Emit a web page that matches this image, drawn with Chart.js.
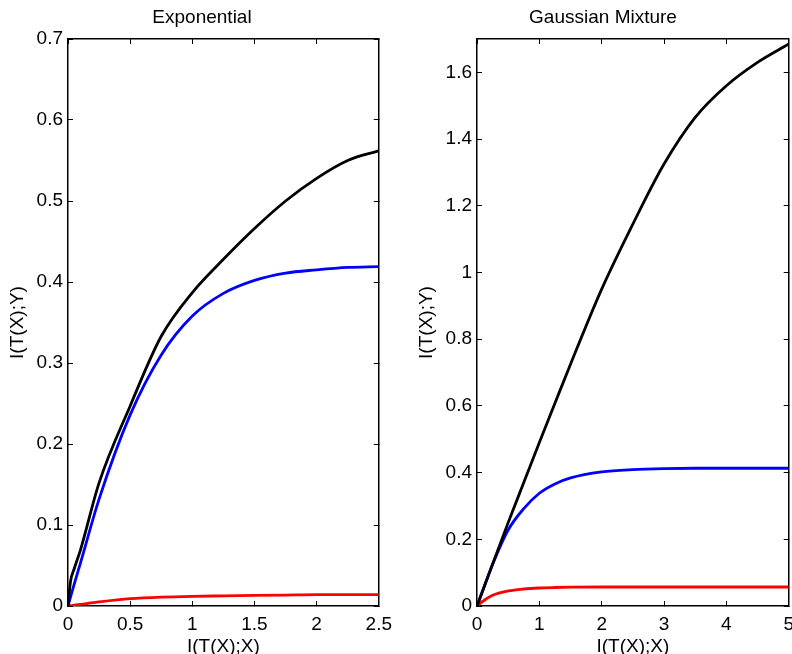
<!DOCTYPE html>
<html>
<head>
<meta charset="utf-8">
<script src="https://cdn.jsdelivr.net/npm/chart.js@4"></script>
<style>
    html, body { margin: 0; padding: 0; background: #fff; overflow: hidden; }
    body { width: 792px; height: 654px; position: relative; }
    .panel { position: absolute; top: 0; }
</style>
</head>
<body>
<div class="panel" style="left:0"><canvas id="expChart" width="404" height="654"></canvas></div>
<div class="panel" style="left:400px"><canvas id="gmmChart" width="406" height="654"></canvas></div>
<script>
// Exponential panel
const expX = [0, 0.02, 0.05, 0.1, 0.25, 0.5, 0.75, 1, 1.25, 1.5, 1.75, 2, 2.25, 2.5];
const expBlack = [0, 0.03, 0.046, 0.069, 0.152, 0.247, 0.333, 0.387, 0.428, 0.466, 0.5, 0.528, 0.55, 0.562];
const expBlue = [0, 0.011, 0.027, 0.053, 0.132, 0.236, 0.31, 0.358, 0.386, 0.402, 0.411, 0.415, 0.418, 0.419];
const expRed = [0, 0.0005, 0.001, 0.002, 0.005, 0.009, 0.011, 0.012, 0.0125, 0.013, 0.0135, 0.014, 0.014, 0.014];

// Gaussian mixture panel
const gmmX = [0, 0.1, 0.25, 0.5, 0.75, 1, 1.25, 1.5, 2, 2.5, 3, 3.5, 4, 4.5, 5];
const gmmBlack = [0, 0.05, 0.125, 0.25, 0.37, 0.49, 0.608, 0.725, 0.95, 1.145, 1.325, 1.465, 1.56, 1.63, 1.685];
const gmmBlue = [0, 0.05, 0.125, 0.228, 0.292, 0.338, 0.366, 0.384, 0.402, 0.409, 0.412, 0.413, 0.413, 0.413, 0.413];
const gmmRed = [0, 0.015, 0.032, 0.045, 0.051, 0.054, 0.0555, 0.0565, 0.057, 0.057, 0.057, 0.057, 0.057, 0.057, 0.057];

const FONT = "'Liberation Sans', Arial, Helvetica, sans-serif";

function toPoints(xs, ys) {
    return xs.map((x, i) => ({ x: x, y: ys[i] }));
}

function line(xs, ys, color) {
    return {
        data: toPoints(xs, ys),
        borderColor: color,
        borderWidth: 2.8,
        pointRadius: 0,
        cubicInterpolationMode: 'monotone',
        fill: false
    };
}

function fmt(v) {
    return String(+Number(v).toFixed(2));
}

// the x-axis overhang (half of last label + tick padding) sets the right margin,
// so canvases are a bit wider than their half of the page and overlap
function makeChart(id, opts) {
    const tickGrid = { drawOnChartArea: false, drawTicks: true, tickLength: -5, color: '#000', lineWidth: 1 };
    const border = { display: true, color: '#000', width: 1.5 };
    const tickFont = { family: FONT, size: 19 };
    return new Chart(document.getElementById(id), {
        type: 'line',
        data: {
            datasets: [
                line(opts.xs, opts.black, '#000000'),
                line(opts.xs, opts.blue, '#0000ff'),
                line(opts.xs, opts.red, '#ff0000')
            ]
        },
        options: {
            responsive: false,
            animation: false,
            layout: { padding: 0 },
            plugins: {
                legend: { display: false },
                tooltip: { enabled: false },
                title: {
                    display: true,
                    text: opts.title,
                    color: '#000',
                    font: { family: FONT, size: 19, weight: 'normal', lineHeight: 1.2 },
                    padding: { top: 6, bottom: 10.2 }
                }
            },
            scales: {
                x: {
                    type: 'linear',
                    position: 'bottom',
                    min: 0, max: opts.xMax,
                    grid: tickGrid, border: border,
                    ticks: { stepSize: opts.xStep, includeBounds: false, color: '#000', font: tickFont, padding: 12, maxRotation: 0, callback: fmt },
                    title: {
                        display: true, text: 'I(T(X);X)', color: '#000',
                        font: { family: FONT, size: 19, lineHeight: 0.75 }, padding: { top: 0, bottom: 0 }
                    },
                    afterFit: s => { s.height = 48; }
                },
                y: {
                    type: 'linear',
                    position: 'left',
                    min: 0, max: opts.yMax,
                    grid: tickGrid, border: border,
                    ticks: { stepSize: opts.yStep, includeBounds: false, color: '#000', font: tickFont, padding: 10, callback: fmt },
                    title: {
                        display: true, text: 'I(T(X);Y)', color: '#000',
                        font: { family: FONT, size: 19, lineHeight: 1.2 }, padding: { top: opts.yTitlePad, bottom: 0 }
                    },
                    afterFit: s => { s.width = opts.yAxisWidth; }
                },
                x2: {
                    type: 'linear',
                    position: 'top',
                    min: 0, max: opts.xMax,
                    grid: tickGrid, border: border,
                    ticks: { stepSize: opts.xStep, includeBounds: false, display: false },
                    afterFit: s => { s.height = 0; }
                },
                y2: {
                    type: 'linear',
                    position: 'right',
                    min: 0, max: opts.yMax,
                    grid: tickGrid, border: border,
                    ticks: { stepSize: opts.yStep, includeBounds: false, display: false },
                    afterFit: s => { s.width = 0; }
                }
            }
        }
    });
}

makeChart('expChart', {
    title: 'Exponential',
    xs: expX, black: expBlack, blue: expBlue, red: expRed,
    xMax: 2.5, xStep: 0.5, yMax: 0.7, yStep: 0.1,
    yAxisWidth: 68, yTitlePad: 6
});

makeChart('gmmChart', {
    title: 'Gaussian Mixture',
    xs: gmmX, black: gmmBlack, blue: gmmBlue, red: gmmRed,
    xMax: 5, xStep: 1, yMax: 1.7, yStep: 0.2,
    yAxisWidth: 77, yTitlePad: 15.6
});
</script>
</body>
</html>
